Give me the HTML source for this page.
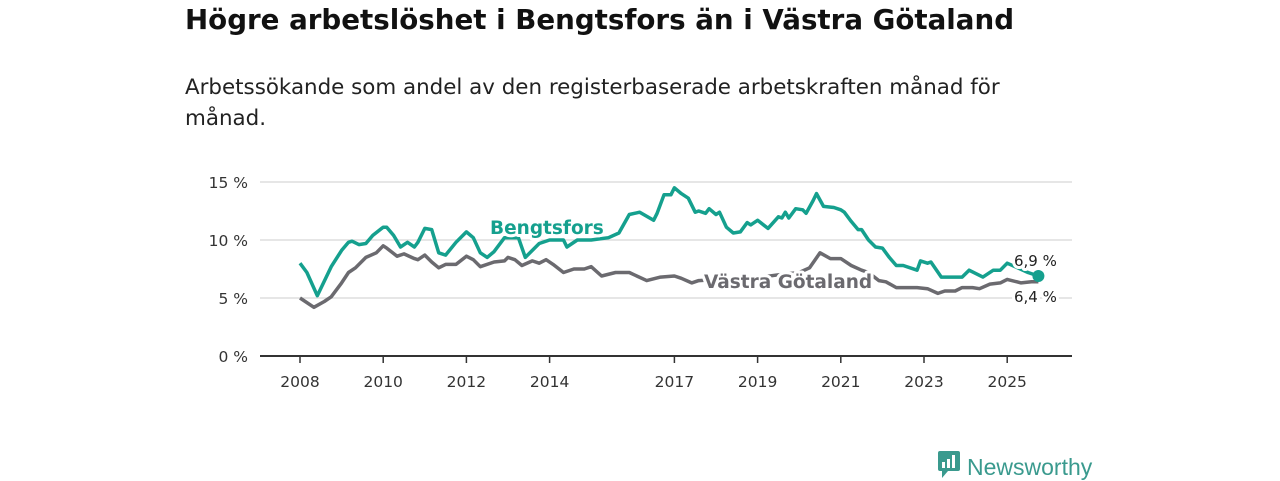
<!DOCTYPE html>
<html><head><meta charset="utf-8"><style>
body{margin:0;width:1280px;height:480px;background:#fff;font-family:"DejaVu Sans","Liberation Sans",sans-serif;overflow:hidden;position:relative}
h1{position:absolute;left:185px;top:0;margin:0;font-size:27.7px;font-weight:bold;color:#111;line-height:40px;white-space:nowrap}
.sub{position:absolute;left:185px;top:72px;margin:0;font-size:21.4px;color:#222;line-height:31px;width:880px}
svg{position:absolute;left:0;top:0}
.logo{position:absolute;left:938px;top:447px;font-size:21px;color:#3a9a8e;font-family:"Liberation Sans",sans-serif}
</style></head><body>
<h1>Högre arbetslöshet i Bengtsfors än i Västra Götaland</h1>
<p class="sub">Arbetssökande som andel av den registerbaserade arbetskraften månad för månad.</p>
<svg id="chart" width="1280" height="480"></svg>
<div class="logo"><svg width="22" height="28" style="position:relative;left:0;top:4px;vertical-align:baseline"><rect x="0" y="0" width="22" height="20" rx="2" fill="#3a9a8e"/><polygon points="4,20 10,20 4,27" fill="#3a9a8e"/><rect x="4" y="11" width="3" height="6" fill="#fff"/><rect x="9" y="8" width="3" height="9" fill="#fff"/><rect x="14" y="4" width="3" height="13" fill="#fff"/></svg><span style="margin-left:7px;font-size:23px">Newsworthy</span></div>
<script>
const yTicks=[0,5,10,15];
const xTickYears=[2008,2010,2012,2014,2017,2019,2021,2023,2025];
const bMonths=[0,2,5,9,12,14,15,17,19,21,24,25,27,29,31,33,34,36,38,40,42,45,48,50,52,54,56,59,63,65,69,72,76,77,80,84,89,92,95,98,102,103,105,107,108,110,112,114,115,117,118,120,121,123,125,127,129,130,132,135,138,139,140,141,143,145,146,148,149,151,154,156,157,159,161,162,164,166,168,170,172,174,178,179,181,182,185,188,191,193,197,200,202,204,207,210,213];
const bValues=[8.0,7.2,5.2,7.7,9.1,9.8,9.9,9.6,9.7,10.4,11.1,11.1,10.4,9.4,9.8,9.4,9.8,11.0,10.9,8.9,8.7,9.8,10.7,10.2,8.9,8.5,9.0,10.2,10.2,8.5,9.7,10.0,10.0,9.4,10.0,10.0,10.2,10.6,12.2,12.4,11.7,12.3,13.9,13.9,14.5,14.0,13.6,12.4,12.5,12.3,12.7,12.2,12.4,11.1,10.6,10.7,11.5,11.3,11.7,11.0,12.0,11.9,12.4,11.9,12.7,12.6,12.3,13.4,14.0,12.9,12.8,12.6,12.4,11.6,10.9,10.9,10.0,9.4,9.3,8.5,7.8,7.8,7.4,8.2,8.0,8.1,6.8,6.8,6.8,7.4,6.8,7.4,7.4,8.0,7.6,7.2,6.9];
const vMonths=[0,4,7,9,12,14,16,19,22,24,25,28,30,33,34,36,38,40,42,45,48,50,52,56,59,60,62,64,67,69,71,73,76,79,82,84,87,91,95,100,104,108,110,113,115,121,127,133,138,144,147,150,153,156,159,162,164,167,169,172,178,181,184,186,189,191,194,196,199,202,204,208,211,213];
const vValues=[5.0,4.2,4.7,5.1,6.3,7.2,7.6,8.5,8.9,9.5,9.3,8.6,8.8,8.4,8.3,8.7,8.1,7.6,7.9,7.9,8.6,8.3,7.7,8.1,8.2,8.5,8.3,7.8,8.2,8.0,8.3,7.9,7.2,7.5,7.5,7.7,6.9,7.2,7.2,6.5,6.8,6.9,6.7,6.3,6.5,6.6,6.7,6.8,7.0,7.2,7.6,8.9,8.4,8.4,7.8,7.4,7.2,6.5,6.4,5.9,5.9,5.8,5.4,5.6,5.6,5.9,5.9,5.8,6.2,6.3,6.6,6.3,6.4,6.4];
const svg=document.getElementById('chart');const NS='http://www.w3.org/2000/svg';
const xM=m=>300+m*41.6/12;const xY=y=>xM((y-2008)*12);const yV=v=>356-v*11.6;
function mk(t,a,txt){const e=document.createElementNS(NS,t);for(const k in a)e.setAttribute(k,a[k]);if(txt!==undefined)e.textContent=txt;svg.appendChild(e);return e;}
yTicks.forEach(v=>{if(v>0){const g=mk('line',{x1:260,x2:1072,y1:yV(v),y2:yV(v),stroke:'#d6d6d6','stroke-width':1.2});

}
const t=mk('text',{x:248,y:yV(v)+6,'text-anchor':'end','font-size':15.5,fill:'#333'},v+' %');

});
const ax=mk('line',{x1:260,x2:1072,y1:356,y2:356,stroke:'#333','stroke-width':2});


xTickYears.forEach(y=>{const l=mk('line',{x1:xY(y),x2:xY(y),y1:357,y2:363,stroke:'#333','stroke-width':1.5});


const t=mk('text',{x:xY(y),y:387,'text-anchor':'middle','font-size':15.5,fill:'#333'},y);

});
function path(ms,vs){return ms.map((m,i)=>(i?'L':'M')+xM(m).toFixed(1)+','+yV(vs[i]).toFixed(1)).join('');}
const pv=mk('path',{d:path(vMonths,vValues),fill:'none',stroke:'#6b6a6f','stroke-width':3.5,'stroke-linejoin':'round'});


const pb=mk('path',{d:path(bMonths,bValues),fill:'none',stroke:'#15a08e','stroke-width':3.5,'stroke-linejoin':'round'});


const lastB=bValues[bValues.length-1],lastV=vValues[vValues.length-1],lastM=bMonths[bMonths.length-1];
const d=mk('circle',{cx:xM(lastM),cy:yV(lastB),r:6,fill:'#15a08e'});


const halo={stroke:'#fff','stroke-width':6,'paint-order':'stroke','stroke-linejoin':'round'};
const lb=mk('text',Object.assign({x:490,y:234,'font-size':18.5,'font-weight':'bold',fill:'#15a08e'},halo),'Bengtsfors');


const lv=mk('text',Object.assign({x:704,y:288,'font-size':18.5,'font-weight':'bold',fill:'#6b6a6f'},halo),'Västra Götaland');


const e1=mk('text',Object.assign({x:1014,y:266,'font-size':15,fill:'#222'},halo),lastB.toString().replace('.',',')+' %');


const e2=mk('text',Object.assign({x:1014,y:302,'font-size':15,fill:'#222'},halo),lastV.toString().replace('.',',')+' %');


</script>
</body></html>
